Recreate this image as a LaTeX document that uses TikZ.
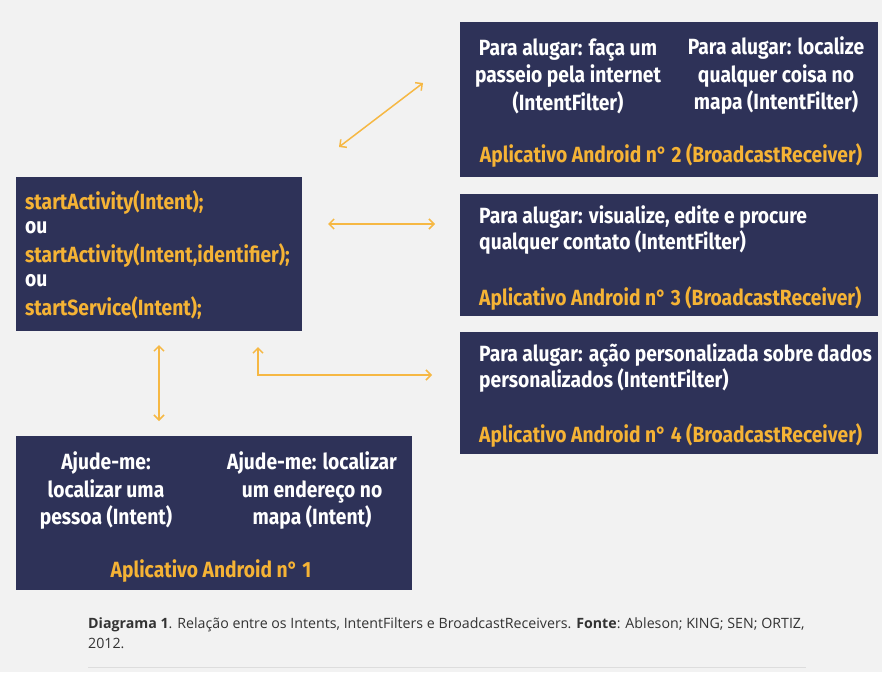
\documentclass[tikz,border=0pt]{standalone}
\usepackage{fontspec}
\usetikzlibrary{arrows.meta}
\newfontfamily\boxfont[FakeStretch=0.875]{Fira Sans Bold}
\newfontfamily\capfont{Open Sans}
\definecolor{bg}{HTML}{F2F2F2}
\definecolor{navy}{HTML}{2E3258}
\definecolor{gold}{HTML}{F5B335}
\definecolor{arrowc}{HTML}{F6B844}
\definecolor{capc}{HTML}{333333}
\definecolor{rulec}{HTML}{DDDDDD}
\tikzset{
  box/.style={fill=navy, draw=none, anchor=north west, inner sep=0pt, outer sep=0pt},
  wtxt/.style={text=white, font=\boxfont\fontsize{22}{27.5}\selectfont, inner sep=0pt, align=center},
  wtxtl/.style={text=white, font=\boxfont\fontsize{22}{26}\selectfont, inner sep=0pt, align=left, anchor=west},
  otxt/.style={text=gold, font=\boxfont\fontsize{22}{27}\selectfont, inner sep=0pt},
  arr/.style={draw=arrowc, line width=1.5pt, {Straight Barb[length=5pt,width=10pt]}-{Straight Barb[length=5pt,width=10pt]}},
}
\begin{document}
\begin{tikzpicture}[x=1pt,y=-1pt]
\fill[bg] (0,0) rectangle (882,672);
\useasboundingbox (0,0) rectangle (882,672);

% boxes
\node[box, minimum width=286pt, minimum height=154pt] (bA) at (16,177) {};
\node[box, minimum width=418pt, minimum height=155pt] (b2) at (460,22) {};
\node[box, minimum width=418pt, minimum height=122pt] (b3) at (460,194) {};
\node[box, minimum width=418pt, minimum height=122pt] (b4) at (460,332) {};
\node[box, minimum width=396pt, minimum height=154pt] (b1) at (16,436) {};

% box A text
\node[otxt, anchor=west] (a1) at (25,202) {startActivity(Intent);};
\node[wtxtl] (a2) at (25,228) {ou};
\node[otxt, anchor=west] (a3) at (25,255) {startActivity(Intent,identifier);};
\node[wtxtl] (a4) at (25,281) {ou};
\node[otxt, anchor=west] (a5) at (25,308) {startService(Intent);};

% box 2 text
\node[wtxt] (t2a) at (568,76) {Para alugar: faça um\\passeio pela internet\\(IntentFilter)};
\node[wtxt] (t2b) at (776,76) {Para alugar: localize\\qualquer coisa no\\mapa (IntentFilter)};
\node[otxt] (o2) at (671,155) {Aplicativo Android n° 2 (BroadcastReceiver)};

% box 3 text
\node[wtxtl] (t3) at (479,230) {Para alugar: visualize, edite e procure\\qualquer contato (IntentFilter)};
\node[otxt, anchor=west] (o3) at (479,298) {Aplicativo Android n° 3 (BroadcastReceiver)};

% box 4 text
\node[wtxtl] (t4) at (479,368) {Para alugar: ação personalizada sobre dados\\personalizados (IntentFilter)};
\node[otxt, anchor=west] (o4) at (479,435) {Aplicativo Android n° 4 (BroadcastReceiver)};

% box 1 text
\node[wtxt] (t1a) at (106,491) {Ajude-me:\\localizar uma\\pessoa (Intent)};
\node[wtxt] (t1b) at (312,491) {Ajude-me: localizar\\um endereço no\\mapa (Intent)};
\node[otxt] (o1) at (211,571) {Aplicativo Android n° 1};

% arrows
\coordinate (d1) at (339,147);
\coordinate (d2) at (423,83);
\coordinate (h1) at (328,224);
\coordinate (h2) at (435,224);
\coordinate (l1) at (258,347);
\coordinate (lc) at (258,375);
\coordinate (l2) at (432,375);
\coordinate (v1) at (159,345);
\coordinate (v2) at (159,421);
\draw[arr] (d1) -- (d2);
\draw[arr] (h1) -- (h2);
\draw[arr] (l1) -- (lc) -- (l2);
\draw[arr] (v1) -- (v2);

% caption
\node[anchor=west, inner sep=0pt, text=capc, font=\capfont\fontsize{14.2}{20}\selectfont, align=left] (cap) at (88,633)
  {\textbf{Diagrama 1}. Relação entre os Intents, IntentFilters e BroadcastReceivers. \textbf{Fonte}: Ableson; KING; SEN; ORTIZ,\\2012.};
\coordinate (r1) at (88,667);
\coordinate (r2) at (806,667);
\draw[rulec, line width=1pt] (r1) -- (r2);
\end{tikzpicture}
\end{document}
